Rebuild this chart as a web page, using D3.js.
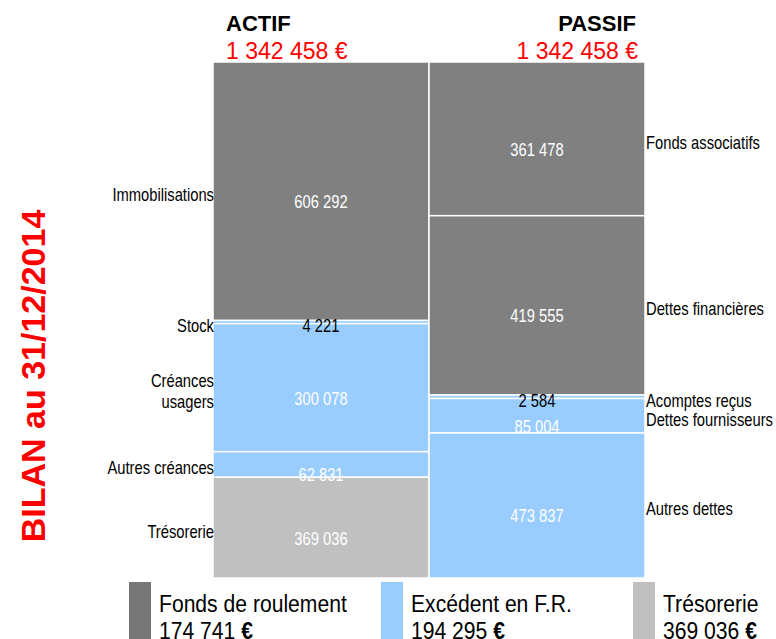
<!DOCTYPE html>
<html>
<head>
<meta charset="utf-8">
<script src="https://cdn.jsdelivr.net/npm/d3@7"></script>
<style>
  body { margin: 0; background: #fff; }
  svg { display: block; }
</style>
</head>
<body>
<div id="chart"></div>
<script>
// postes du bilan
const colonnes = ["ACTIF", "PASSIF"];
const totaux = [1342458, 1342458];

const actifPostes = ["Immobilisations", "Stock", "Créances\nusagers", "Autres créances", "Trésorerie"];
const actifMontants = [606292, 4221, 300078, 62831, 369036];
// hauteurs des blocs (ne suivent pas les étiquettes)
const actifBarres = [672500, 8300, 333000, 66600, 262058];
const actifGroupes = ["fr", "efr", "efr", "efr", "treso"];

const passifPostes = ["Fonds associatifs", "Dettes financières", "Acomptes reçus", "Dettes fournisseurs", "Autres dettes"];
const passifMontants = [361478, 419555, 2584, 85004, 473837];
const passifBarres = [399900, 466500, 9100, 89700, 377258];
const passifGroupes = ["fr", "fr", "efr", "efr", "efr"];

const legendeNoms = ["Fonds de roulement", "Excédent en F.R.", "Trésorerie"];
const legendeGroupes = ["fr", "efr", "treso"];
const legendeMontants = [174741, 194295, 369036];

const couleurs = { fr: "#808080", efr: "#99ccff", treso: "#c0c0c0" };
const couleursLegende = { fr: "#777777", efr: "#99ccff", treso: "#c0c0c0" };

// pas de police étroite installée : Liberation Sans compressée horizontalement
const sans = "'Liberation Sans', Arial, sans-serif";
const etroit = 0.82;

const fr = d3.formatLocale({ decimal: ",", thousands: " ", grouping: [3], currency: ["", " €"] });
const fmt = fr.format(",d");

const width = 776, height = 639;

const svg = d3.select("#chart")
  .append("svg")
  .attr("width", width)
  .attr("height", height);

const x = d3.scaleBand()
  .domain(colonnes)
  .range([213, 645])
  .padding(0);

const y = d3.scaleLinear()
  .domain([0, d3.max(totaux)])
  .range([62, 578]);

function stack(postes, montants, barres, groupes) {
  const fins = Array.from(d3.cumsum(barres));
  return postes.map((p, i) => ({
    poste: p,
    montant: montants[i],
    groupe: groupes[i],
    debut: fins[i] - barres[i],
    fin: fins[i]
  }));
}

const blocs = {
  ACTIF: stack(actifPostes, actifMontants, actifBarres, actifGroupes),
  PASSIF: stack(passifPostes, passifMontants, passifBarres, passifGroupes)
};

const hauteur = d => y(d.fin) - y(d.debut);
const milieu = d => (y(d.debut) + y(d.fin)) / 2;

colonnes.forEach((col, ci) => {
  const g = svg.append("g");
  const data = blocs[col];
  const gauche = ci === 0;

  g.selectAll("rect")
    .data(data)
    .enter()
    .append("rect")
    .attr("x", x(col))
    .attr("width", x.bandwidth())
    .attr("y", d => y(d.debut))
    .attr("height", hauteur)
    .attr("fill", d => couleurs[d.groupe])
    .attr("stroke", "#fff")
    .attr("stroke-width", 1.5);

  // montants dans les blocs
  g.selectAll(".valeur")
    .data(data)
    .enter()
    .append("text")
    .attr("class", "valeur")
    .attr("transform", d => {
      const yy = milieu(d) + (hauteur(d) < 10 ? 10 : 17);
      return `translate(${x(col) + x.bandwidth() / 2},${yy}) scale(${etroit},1)`;
    })
    .attr("text-anchor", "middle")
    .style("font-family", sans)
    .style("font-size", "18px")
    .style("fill", d => (hauteur(d) < 10 ? "#000" : "#fff"))
    .text(d => fmt(d.montant));

  // noms des postes sur les côtés
  const noms = g.selectAll(".poste")
    .data(data)
    .enter()
    .append("text")
    .attr("class", "poste")
    .attr("transform", d => {
      const xx = gauche ? x(col) + 1 : x(col) + x.bandwidth() + 1;
      return `translate(${xx},${milieu(d) + 10}) scale(${etroit},1)`;
    })
    .attr("text-anchor", gauche ? "end" : "start")
    .style("font-family", sans)
    .style("font-size", "18px")
    .style("fill", "#000");

  noms.each(function (d) {
    const lignes = d.poste.split("\n");
    d3.select(this).selectAll("tspan")
      .data(lignes)
      .enter()
      .append("tspan")
      .attr("x", 0)
      .attr("y", (l, i) => (i - (lignes.length - 1) / 2) * 21)
      .text(l => l);
  });

  // en-têtes
  const hx = gauche ? x(col) + 13 : x(col) + x.bandwidth() - 9;
  svg.append("text")
    .attr("x", hx)
    .attr("y", 31)
    .attr("text-anchor", gauche ? "start" : "end")
    .style("font-family", sans)
    .style("font-weight", "bold")
    .style("font-size", "22px")
    .style("fill", "#000")
    .text(col);

  svg.append("text")
    .attr("x", gauche ? hx : hx + 2)
    .attr("y", 59)
    .attr("text-anchor", gauche ? "start" : "end")
    .style("font-family", sans)
    .style("font-size", "23px")
    .style("fill", "#ff0000")
    .text(fmt(totaux[ci]) + " €");
});

// titre vertical
svg.append("text")
  .attr("transform", "translate(45,376) rotate(-90)")
  .attr("text-anchor", "middle")
  .style("font-family", sans)
  .style("font-weight", "bold")
  .style("font-size", "34px")
  .style("fill", "#ff0000")
  .text("BILAN au 31/12/2014");

// légende
const lx = d3.scalePoint()
  .domain(legendeNoms)
  .range([129, 633]);

const leg = svg.selectAll(".legende")
  .data(legendeNoms)
  .enter()
  .append("g")
  .attr("class", "legende")
  .attr("transform", d => `translate(${lx(d)},582)`);

leg.append("rect")
  .attr("width", 22)
  .attr("height", 70)
  .attr("fill", (d, i) => couleursLegende[legendeGroupes[i]]);

leg.append("text")
  .attr("transform", "translate(30,30) scale(0.88,1)")
  .style("font-family", sans)
  .style("font-size", "24px")
  .style("fill", "#000")
  .text(d => d);

const ligne2 = leg.append("text")
  .attr("transform", "translate(30,56.5) scale(0.88,1)")
  .style("font-family", sans)
  .style("font-size", "24px")
  .style("fill", "#000");

ligne2.append("tspan")
  .text((d, i) => fmt(legendeMontants[i]) + " ");

ligne2.append("tspan")
  .style("font-weight", "bold")
  .text("€");
</script>
</body>
</html>
